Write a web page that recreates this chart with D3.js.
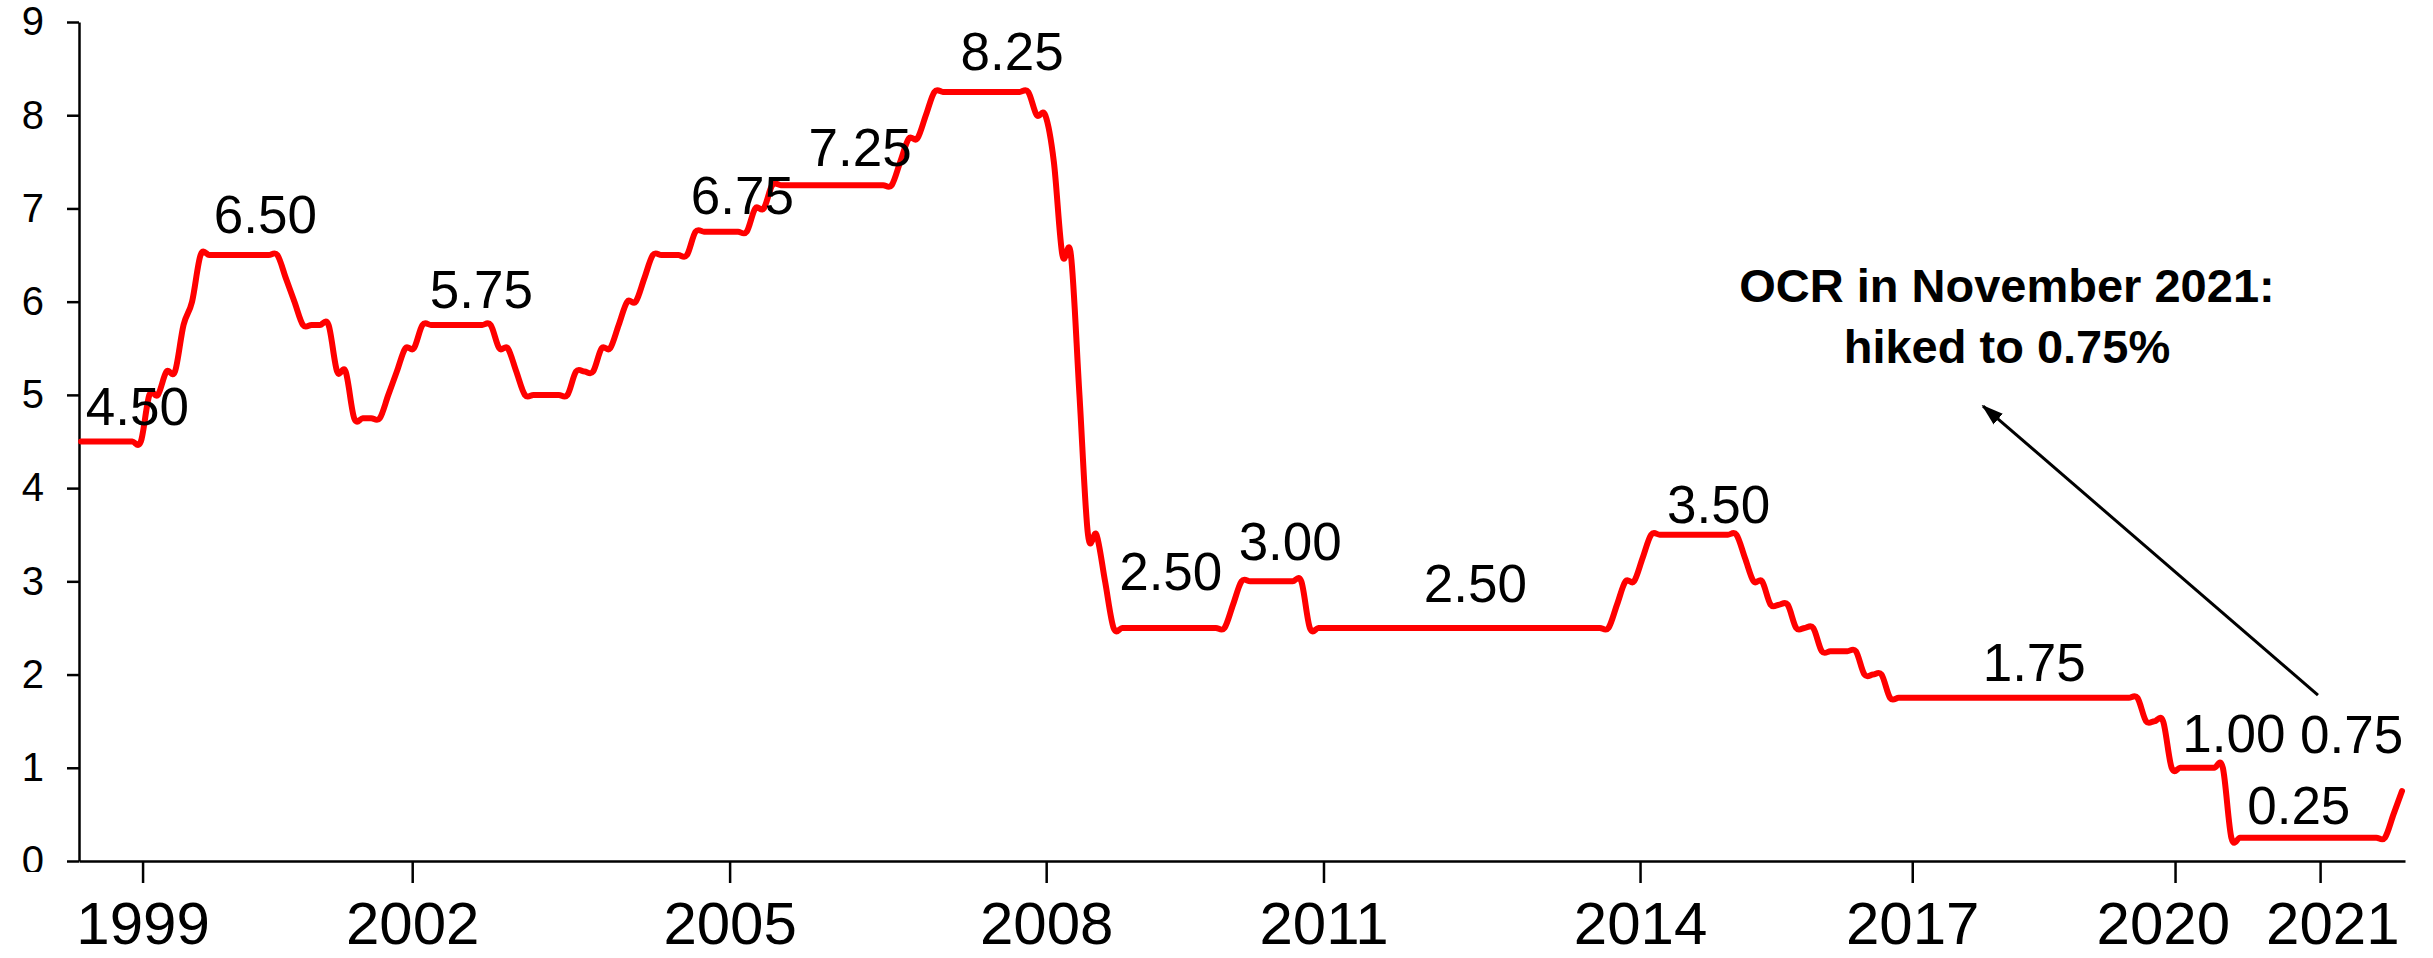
<!DOCTYPE html>
<html lang="en">
<head>
<meta charset="UTF-8">
<title>OCR 1999-2021</title>
<script src="https://d3js.org/d3.v7.min.js"></script>
<style>
  body { margin: 0; background: #fff; }
  svg { display: block; font-family: "Liberation Sans", Arial, sans-serif; }
  .axis path, .axis line { stroke: #000; stroke-width: 2.5; }
  .axis text { fill: #000; }
  .ocr-line { fill: none; stroke: #ff0000; stroke-width: 6; stroke-linejoin: round; stroke-linecap: round; }
  .val-label { font-size: 53px; text-anchor: middle; fill: #000; }
  .note { font-size: 47px; font-weight: bold; text-anchor: middle; fill: #000; }
</style>
</head>
<body>
<svg id="chart"></svg>
<script>
// OCR at month end, one value per month from Mar 1999 to Nov 2021
const ocr = [
  // 1999 (Mar-Dec)
  4.50, 4.50, 4.50, 4.50, 4.50, 4.50, 4.50, 4.50, 5.00, 5.00,
  // 2000
  5.25, 5.25, 5.75, 6.00, 6.50, 6.50, 6.50, 6.50, 6.50, 6.50, 6.50, 6.50,
  // 2001
  6.50, 6.50, 6.25, 6.00, 5.75, 5.75, 5.75, 5.75, 5.25, 5.25, 4.75, 4.75,
  // 2002
  4.75, 4.75, 5.00, 5.25, 5.50, 5.50, 5.75, 5.75, 5.75, 5.75, 5.75, 5.75,
  // 2003
  5.75, 5.75, 5.75, 5.50, 5.50, 5.25, 5.00, 5.00, 5.00, 5.00, 5.00, 5.00,
  // 2004
  5.25, 5.25, 5.25, 5.50, 5.50, 5.75, 6.00, 6.00, 6.25, 6.50, 6.50, 6.50,
  // 2005
  6.50, 6.50, 6.75, 6.75, 6.75, 6.75, 6.75, 6.75, 6.75, 7.00, 7.00, 7.25,
  // 2006
  7.25, 7.25, 7.25, 7.25, 7.25, 7.25, 7.25, 7.25, 7.25, 7.25, 7.25, 7.25,
  // 2007
  7.25, 7.25, 7.50, 7.75, 7.75, 8.00, 8.25, 8.25, 8.25, 8.25, 8.25, 8.25,
  // 2008
  8.25, 8.25, 8.25, 8.25, 8.25, 8.25, 8.00, 8.00, 7.50, 6.50, 6.50, 5.00,
  // 2009
  3.50, 3.50, 3.00, 2.50, 2.50, 2.50, 2.50, 2.50, 2.50, 2.50, 2.50, 2.50,
  // 2010
  2.50, 2.50, 2.50, 2.50, 2.50, 2.75, 3.00, 3.00, 3.00, 3.00, 3.00, 3.00,
  // 2011
  3.00, 3.00, 2.50, 2.50, 2.50, 2.50, 2.50, 2.50, 2.50, 2.50, 2.50, 2.50,
  // 2012
  2.50, 2.50, 2.50, 2.50, 2.50, 2.50, 2.50, 2.50, 2.50, 2.50, 2.50, 2.50,
  // 2013
  2.50, 2.50, 2.50, 2.50, 2.50, 2.50, 2.50, 2.50, 2.50, 2.50, 2.50, 2.50,
  // 2014
  2.50, 2.50, 2.75, 3.00, 3.00, 3.25, 3.50, 3.50, 3.50, 3.50, 3.50, 3.50,
  // 2015
  3.50, 3.50, 3.50, 3.50, 3.50, 3.25, 3.00, 3.00, 2.75, 2.75, 2.75, 2.50,
  // 2016
  2.50, 2.50, 2.25, 2.25, 2.25, 2.25, 2.25, 2.00, 2.00, 2.00, 1.75, 1.75,
  // 2017
  1.75, 1.75, 1.75, 1.75, 1.75, 1.75, 1.75, 1.75, 1.75, 1.75, 1.75, 1.75,
  // 2018
  1.75, 1.75, 1.75, 1.75, 1.75, 1.75, 1.75, 1.75, 1.75, 1.75, 1.75, 1.75,
  // 2019
  1.75, 1.75, 1.75, 1.75, 1.50, 1.50, 1.50, 1.00, 1.00, 1.00, 1.00, 1.00,
  // 2020
  1.00, 1.00, 0.25, 0.25, 0.25, 0.25, 0.25, 0.25, 0.25, 0.25, 0.25, 0.25,
  // 2021 (Jan-Nov)
  0.25, 0.25, 0.25, 0.25, 0.25, 0.25, 0.25, 0.25, 0.25, 0.50, 0.75
];

// axis ticks; x positions are in months counted from Mar 1999
const yTicks = [0, 1, 2, 3, 4, 5, 6, 7, 8, 9];
const xTickLabels = ["1999", "2002", "2005", "2008", "2011", "2014", "2017", "2020", "2021"];
const xTickPos = [7.2, 38.8, 76.0, 113.1, 145.6, 182.7, 214.6, 245.4, 262.4];

// rate labels written on the chart: [text, month, level]
const rateLabels = [
  ["4.50", 6.6, 4.68], ["6.50", 21.6, 6.74], ["5.75", 46.9, 5.93],
  ["6.75", 77.5, 6.94], ["7.25", 91.3, 7.45], ["8.25", 109.1, 8.48],
  ["2.50", 127.7, 2.91], ["3.00", 141.7, 3.23], ["2.50", 163.4, 2.78],
  ["3.50", 191.9, 3.63], ["1.75", 228.9, 1.93], ["1.00", 252.3, 1.17],
  ["0.75", 266.1, 1.16], ["0.25", 259.9, 0.40]
];

const noteLines = ["OCR in November 2021:", "hiked to 0.75%"];
const noteAt = { month: 225.7, level: 6.0, step: 0.66 };
const arrowFrom = { month: 262.15, level: 1.78 };
const arrowTo = { month: 222.9, level: 4.88 };

const W = 2433, H = 958;
const svg = d3.select("#chart").attr("width", W).attr("height", H);

const x = d3.scaleLinear().domain([-0.25, 272.35]).range([79, 2405]);
const y = d3.scaleLinear().domain([0, 9]).range([861, 22]);

// y axis, bottom of the "0" label is cut like in the original
svg.append("clipPath").attr("id", "yclip")
  .append("rect").attr("x", -100).attr("y", -20).attr("width", 110).attr("height", 892);

const gy = svg.append("g")
  .attr("class", "axis")
  .attr("transform", `translate(${x.range()[0]},0)`)
  .attr("clip-path", "url(#yclip)")
  .call(d3.axisLeft(y).tickValues(yTicks).tickSize(12).tickSizeOuter(0).tickPadding(23));
gy.selectAll("text").style("font-size", "40px");

// x axis
const gx = svg.append("g")
  .attr("class", "axis")
  .attr("transform", `translate(0,${y(0)})`)
  .call(d3.axisBottom(x).tickValues(xTickPos).tickFormat((d, i) => xTickLabels[i])
    .tickSize(22).tickSizeOuter(0));
gx.selectAll("text")
  .style("font-size", "60px")
  .attr("dy", null)
  .attr("y", 83);

// push crowded neighbouring year labels apart
const tickTexts = gx.selectAll(".tick text").nodes();
const shifts = tickTexts.map(() => 0);
for (let i = 1; i < tickTexts.length; i++) {
  const wa = tickTexts[i - 1].getBBox().width, wb = tickTexts[i].getBBox().width;
  const d = x(xTickPos[i]) - x(xTickPos[i - 1]);
  const need = (wa + wb) / 2 + 36;
  if (d < need) {
    shifts[i - 1] -= (need - d) / 2;
    shifts[i] += (need - d) / 2;
  }
}
tickTexts.forEach((t, i) => d3.select(t).attr("x", shifts[i]));

// the OCR line
const line = d3.line()
  .x((d, i) => x(i))
  .y(d => y(d))
  .curve(d3.curveCardinal.tension(0));

svg.append("path")
  .datum(ocr)
  .attr("class", "ocr-line")
  .attr("d", line);

// rate labels
svg.selectAll(".val-label")
  .data(rateLabels)
  .enter()
  .append("text")
  .attr("class", "val-label")
  .attr("x", d => x(d[1]))
  .attr("y", d => y(d[2]))
  .text(d => d[0]);

// annotation and arrow
svg.append("defs").append("marker")
  .attr("id", "head")
  .attr("viewBox", "0 -8 22 16")
  .attr("refX", 20).attr("refY", 0)
  .attr("markerWidth", 22).attr("markerHeight", 16)
  .attr("markerUnits", "userSpaceOnUse")
  .attr("orient", "auto")
  .append("path")
  .attr("d", "M0,-7L22,0L0,7Z")
  .attr("fill", "#000");

svg.append("line")
  .attr("x1", x(arrowFrom.month)).attr("y1", y(arrowFrom.level))
  .attr("x2", x(arrowTo.month)).attr("y2", y(arrowTo.level))
  .attr("stroke", "#000").attr("stroke-width", 3)
  .attr("marker-end", "url(#head)");

svg.selectAll(".note")
  .data(noteLines)
  .enter()
  .append("text")
  .attr("class", "note")
  .attr("x", x(noteAt.month))
  .attr("y", (d, i) => y(noteAt.level - i * noteAt.step))
  .text(d => d);
</script>
</body>
</html>
